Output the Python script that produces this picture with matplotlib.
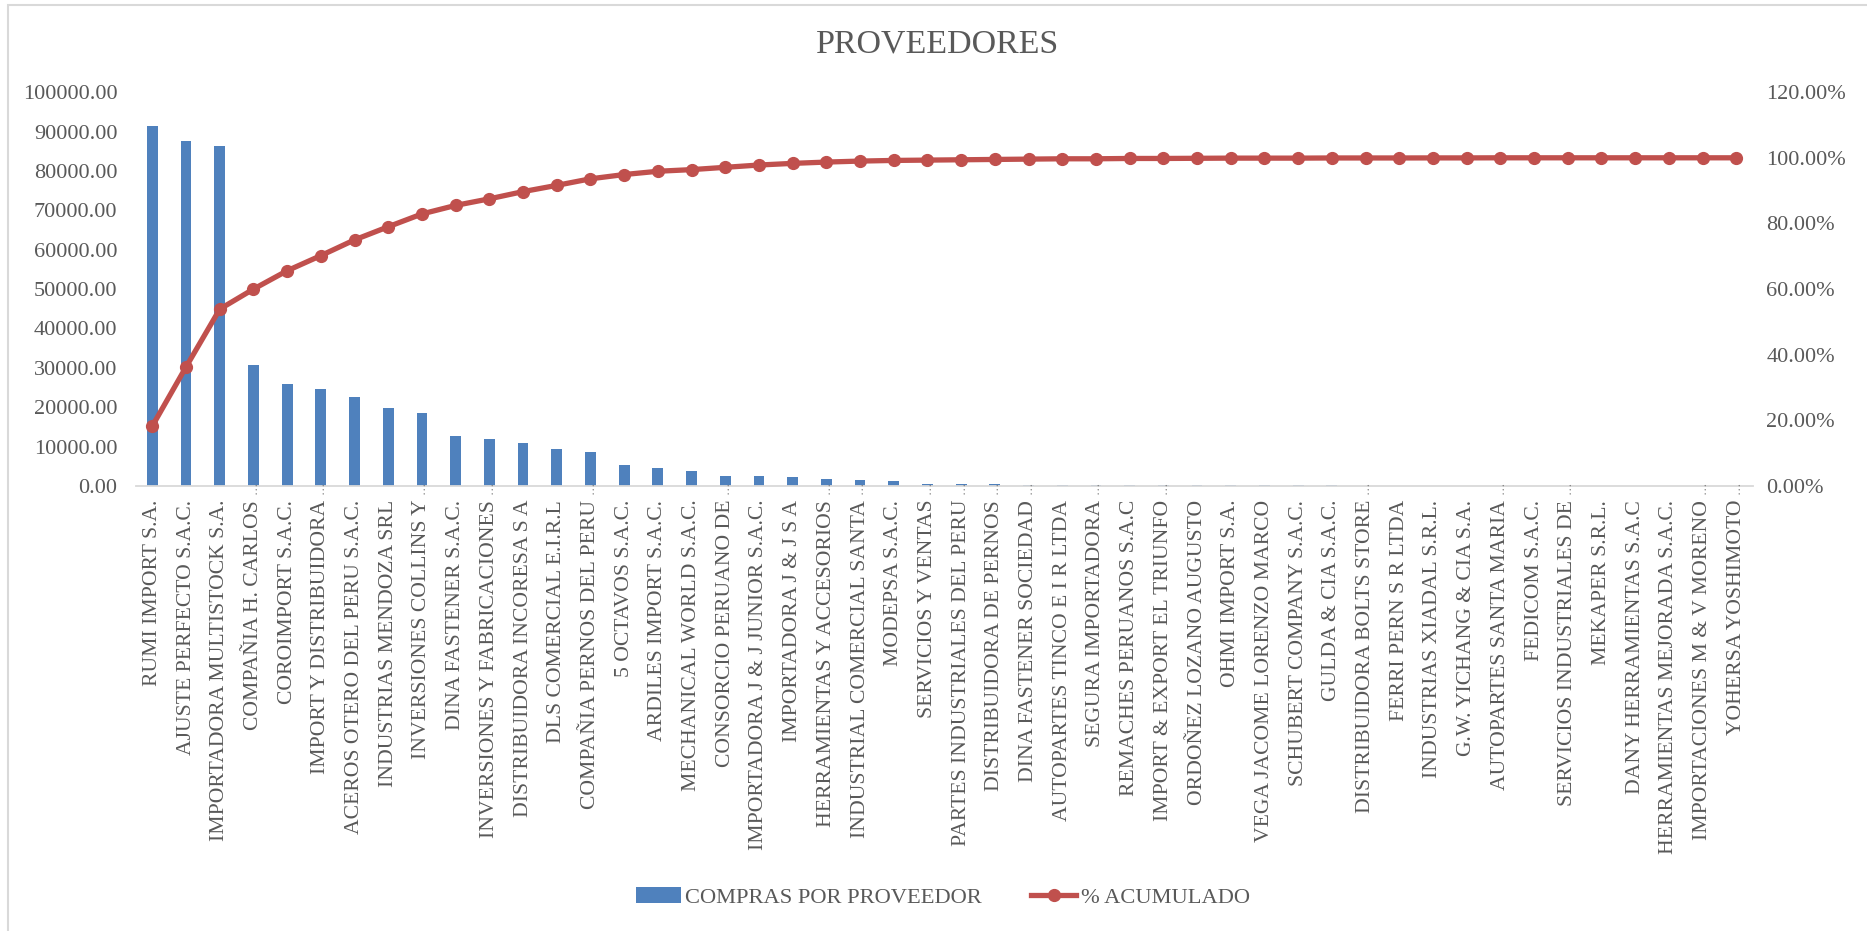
import numpy as np
import matplotlib
matplotlib.use('Agg')
import matplotlib.pyplot as plt
from matplotlib.patches import Rectangle
from matplotlib.ticker import FuncFormatter, MultipleLocator

plt.rcParams['font.family'] = ['Liberation Serif', 'DejaVu Serif']

# proveedores ordenados de mayor a menor compra (etiquetas recortadas como en Excel)
proveedores = [
    'RUMI IMPORT S.A.', 'AJUSTE PERFECTO S.A.C.', 'IMPORTADORA MULTISTOCK S.A.',
    'COMPAÑIA H. CARLOS…', 'COROIMPORT S.A.C.', 'IMPORT Y DISTRIBUIDORA…',
    'ACEROS OTERO DEL PERU S.A.C.', 'INDUSTRIAS MENDOZA SRL', 'INVERSIONES COLLINS Y…',
    'DINA FASTENER S.A.C.', 'INVERSIONES Y FABRICACIONES…', 'DISTRIBUIDORA INCORESA S A',
    'DLS COMERCIAL E.I.R.L', 'COMPAÑIA PERNOS DEL PERU…', '5 OCTAVOS S.A.C.',
    'ARDILES IMPORT S.A.C.', 'MECHANICAL WORLD S.A.C.', 'CONSORCIO PERUANO DE…',
    'IMPORTADORA J & J JUNIOR S.A.C.', 'IMPORTADORA J & J S A', 'HERRAMIENTAS Y ACCESORIOS…',
    'INDUSTRIAL COMERCIAL SANTA…', 'MODEPSA S.A.C.', 'SERVICIOS Y VENTAS…',
    'PARTES INDUSTRIALES DEL PERU…', 'DISTRIBUIDORA DE PERNOS…', 'DINA FASTENER SOCIEDAD…',
    'AUTOPARTES TINCO E I R LTDA', 'SEGURA IMPORTADORA…', 'REMACHES PERUANOS S.A.C',
    'IMPORT & EXPORT EL TRIUNFO…', 'ORDOÑEZ LOZANO AUGUSTO', 'OHMI IMPORT S.A.',
    'VEGA JACOME LORENZO MARCO', 'SCHUBERT COMPANY S.A.C.', 'GULDA & CIA S.A.C.',
    'DISTRIBUIDORA BOLTS STORE…', 'FERRI PERN S R LTDA', 'INDUSTRIAS XIADAL S.R.L.',
    'G.W. YICHANG & CIA S.A.', 'AUTOPARTES SANTA MARIA…', 'FEDICOM S.A.C.',
    'SERVICIOS INDUSTRIALES DE…', 'MEKAPER S.R.L.', 'DANY HERRAMIENTAS S.A.C',
    'HERRAMIENTAS MEJORADA S.A.C.', 'IMPORTACIONES M & V MORENO…', 'YOHERSA YOSHIMOTO…',
]

compras = [
    91400, 87500, 86400, 30800, 25800, 24700, 22700, 19700, 18500, 12700,
    11900, 11000, 9500, 8700, 5300, 4500, 3700, 2500, 2500, 2400,
    1700, 1600, 1200, 500, 450, 400, 350, 300, 250, 220,
    200, 180, 160, 150, 140, 130, 120, 110, 100, 90,
    80, 70, 60, 50, 40, 30, 20, 10,
]

# % acumulado
acumulado = [
    18.3, 36.3, 53.9, 60.0, 65.6, 70.2, 75.0, 79.0, 82.9, 85.5,
    87.5, 89.7, 91.6, 93.6, 94.9, 95.9, 96.4, 97.1, 97.8, 98.3,
    98.7, 99.0, 99.2, 99.3, 99.4, 99.5, 99.6, 99.7, 99.7, 99.8,
    99.8, 99.85, 99.9, 99.9, 99.9, 99.95, 99.95, 99.95, 99.97, 99.97,
    100, 100, 100, 100, 100, 100, 100, 100,
]

text_color = '#595959'
axis_color = '#D9D9D9'

fig = plt.figure(figsize=(18.67, 9.31), dpi=100)
ax = fig.add_axes([0.0726, 0.478, 0.8664, 0.423])

x = np.arange(len(proveedores))
bars = ax.bar(x, compras, width=0.32, color='#4F81BD', label='COMPRAS POR PROVEEDOR', zorder=2)
ax.set_xlim(-0.5, len(proveedores) - 0.5)
ax.set_ylim(0, 100000)
ax.yaxis.set_major_locator(MultipleLocator(10000))
ax.yaxis.set_major_formatter(FuncFormatter(lambda v, p: f'{v:.2f}'))

# Excel deja los puntos suspensivos pegados al eje; se dibujan aparte
etiquetas = [p.rstrip('…') for p in proveedores]
ax.set_xticks(x)
ax.set_xticklabels(etiquetas, rotation=90, ha='center', va='top', fontsize=15.6, color=text_color)
for i, p in enumerate(proveedores):
    if p.endswith('…'):
        ax.annotate('…', xy=(i, 0), xycoords=('data', 'axes fraction'),
                    xytext=(0, -1), textcoords='offset points', rotation=90,
                    ha='center', va='center', fontsize=9, color='#808080')

ax.tick_params(axis='x', length=0, pad=10)
ax.tick_params(axis='y', length=0, pad=13, labelsize=16, labelcolor=text_color)
for s in ['top', 'right', 'left']:
    ax.spines[s].set_visible(False)
ax.spines['bottom'].set_color(axis_color)
ax.spines['bottom'].set_linewidth(1.3)

ax2 = ax.twinx()
line, = ax2.plot(x, acumulado, color='#C0504D', lw=3.8, marker='o', ms=8.5,
                 label='% ACUMULADO', zorder=3)
ax2.set_ylim(0, 120)
ax2.yaxis.set_major_locator(MultipleLocator(20))
ax2.yaxis.set_major_formatter(FuncFormatter(lambda v, p: f'{v:.2f}%'))
ax2.tick_params(axis='y', length=0, pad=9.5, labelsize=16, labelcolor=text_color)
for s in ax2.spines.values():
    s.set_visible(False)

fig.text(0.502, 0.953, 'PROVEEDORES', ha='center', va='center', fontsize=24.5, color=text_color)

fig.legend([bars, line], ['COMPRAS POR PROVEEDOR', '% ACUMULADO'],
           loc='center', bbox_to_anchor=(0.505, 0.036), ncol=2, frameon=False,
           fontsize=16.2, labelcolor=text_color, handlelength=2.0, columnspacing=2.2,
           handletextpad=0.2)

# borde del area del grafico
fig.add_artist(Rectangle((0.0043, -0.05), 1.2, 1.0446, transform=fig.transFigure,
                         fill=False, edgecolor=axis_color, lw=1.5))

fig.savefig('out.png', dpi=100)
